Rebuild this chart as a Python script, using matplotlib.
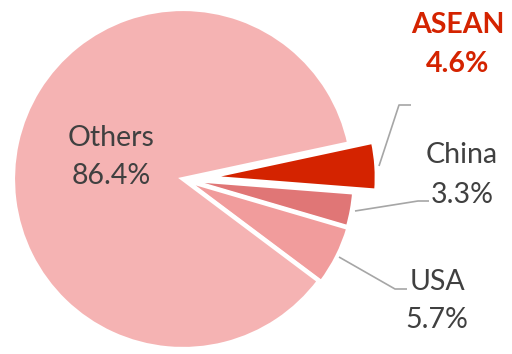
import matplotlib
matplotlib.use("Agg")
import matplotlib.pyplot as plt

# Share of total by partner
labels = ["ASEAN", "China", "USA", "Others"]
shares = [4.6, 3.3, 5.7, 86.4]
colors = ["#D42300", "#E07676", "#F19C9C", "#F5B3B3"]
explode_frac = [0.14, 0.01, 0.015, 0.0]

W, H = 512, 354
fig = plt.figure(figsize=(W / 100, H / 100), dpi=100)
ax = fig.add_axes([0, 0, 1, 1])

cx, cy, R = 183, H - 179, 170
# matplotlib applies explode in data units, so scale by the radius
ax.pie(shares, colors=colors, explode=[f * R for f in explode_frac],
       startangle=12.1, counterclock=False, center=(cx, cy), radius=R,
       frame=True,
       wedgeprops=dict(edgecolor="white", linewidth=3, joinstyle="miter"))

ax.set_xlim(0, W)
ax.set_ylim(0, H)
ax.set_aspect("equal")
ax.axis("off")

def py(y):
    return H - y

text_color = "#404040"
fs = 20.5
font = "Lato"

# Leader lines
line_kw = dict(color="#A6A6A6", lw=1.2, solid_capstyle="butt")
ax.plot([379, 399, 411], [py(166), py(105), py(105)], **line_kw)
ax.plot([355, 418, 429], [py(211), py(201), py(201)], **line_kw)
ax.plot([339, 395, 407], [py(257), py(289), py(289)], **line_kw)

def label(name, idx, x, y1, y2, color=text_color, weight="normal"):
    ax.text(x, py(y1), name, ha="center", va="baseline", fontsize=fs,
            color=color, fontweight=weight, family=font)
    ax.text(x, py(y2), f"{shares[idx]:.1f}%", ha="center", va="baseline",
            fontsize=fs, color=color, fontweight=weight, family=font)

label("Others", 3, 111, 146, 184)
label("ASEAN", 0, 458, 33, 72, color="#D42300", weight="bold")
label("China", 1, 462, 163, 203)
label("USA", 2, 437, 290, 328)

fig.savefig("out.png", dpi=100)
